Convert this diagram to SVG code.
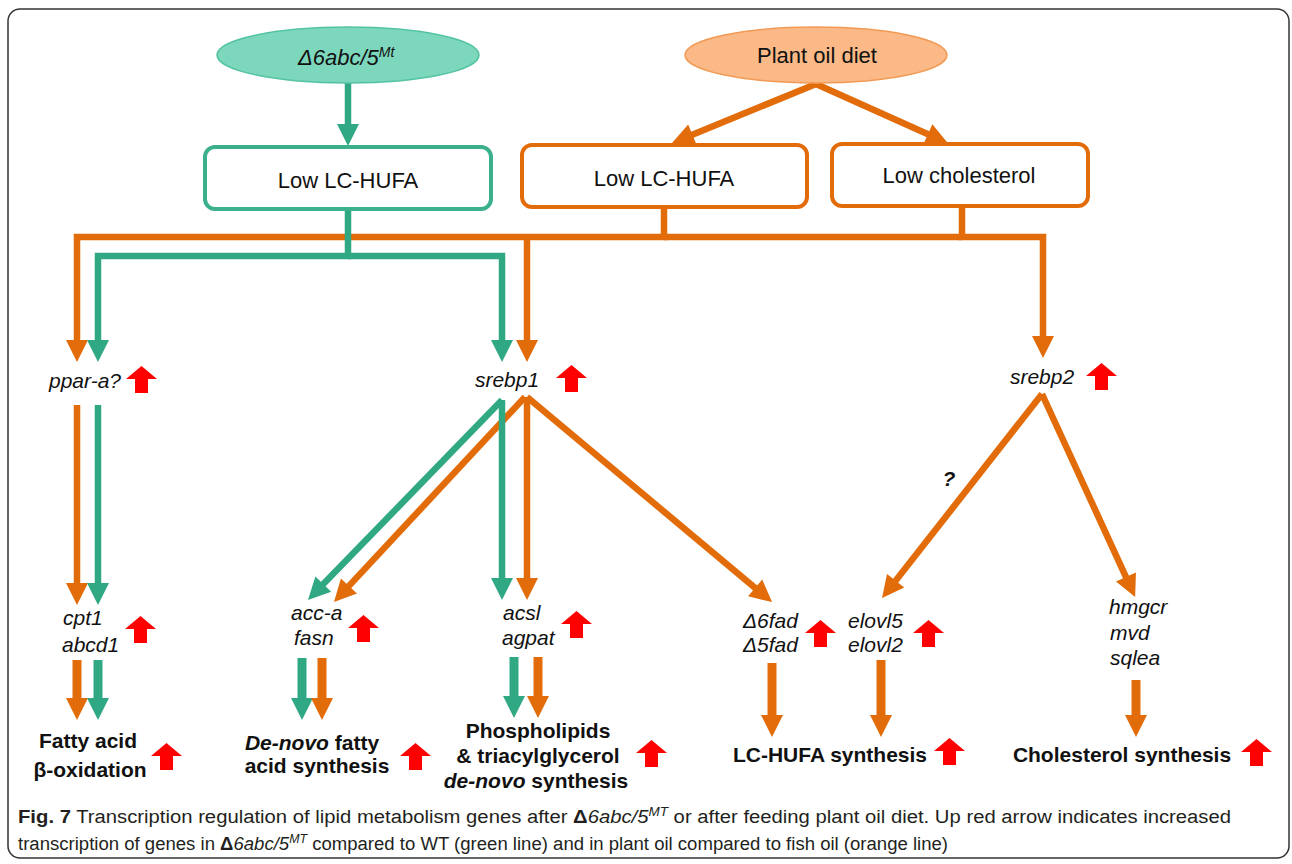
<svg xmlns="http://www.w3.org/2000/svg" width="1292" height="864" viewBox="0 0 1292 864">
<style>
.lbl{font-family:"Liberation Sans",Arial,sans-serif;font-size:21px;fill:#111}
.bx{font-size:22px}
.it{font-style:italic}
.bd{font-weight:bold}
.og{fill:none;stroke:#e36c0a;stroke-width:6.5;stroke-linejoin:miter}
.gr{fill:none;stroke:#31a884;stroke-width:6.5;stroke-linejoin:miter}
.big{stroke-width:9}
.cap{font-family:"Liberation Sans",Arial,sans-serif;font-size:18px;fill:#231f20}
</style>
<defs>
<marker id="ao" markerUnits="userSpaceOnUse" markerWidth="24" markerHeight="24" viewBox="0 -12 22 24" refX="2" refY="0" orient="auto"><path d="M0,-11 L22,0 L0,11 Z" fill="#e36c0a"/></marker>
<marker id="ag" markerUnits="userSpaceOnUse" markerWidth="24" markerHeight="24" viewBox="0 -12 22 24" refX="2" refY="0" orient="auto"><path d="M0,-11 L22,0 L0,11 Z" fill="#31a884"/></marker>
<path id="up" d="M15.5,0 L31,13 L22,13 L22,27 L9,27 L9,13 L0,13 Z" fill="#ff0000"/>
</defs>
<rect x="8" y="9" width="1281" height="849" rx="12" fill="#fff" stroke="#333" stroke-width="1.5"/>

<g id="connectors">
<path class="og" d="M664,208 V237 H77 V342" marker-end="url(#ao)"/>
<path class="og" d="M664,237 H962"/>
<path class="og" d="M527,237 V342" marker-end="url(#ao)"/>
<path class="og" d="M962,207 V237 H1043 V338" marker-end="url(#ao)"/>
<path class="og" d="M816,84 L690.5,135.4" marker-end="url(#ao)"/>
<path class="og" d="M816,84 L929.7,135" marker-end="url(#ao)"/>
<path class="gr" d="M348,83 V126" marker-end="url(#ag)"/>
<path class="gr" d="M348,210 V256 H98 V342" marker-end="url(#ag)"/>
<path class="gr" d="M348,256 H502 V342" marker-end="url(#ag)"/>
<path class="og" d="M77,405 V585" marker-end="url(#ao)"/>
<path class="gr" d="M98,405 V585" marker-end="url(#ag)"/>
<path class="gr" d="M502,400 L321.9,585.6" marker-end="url(#ag)"/>
<path class="og" d="M525,397 L347.6,587.4" marker-end="url(#ao)"/>
<path class="gr" d="M502,400 V580" marker-end="url(#ag)"/>
<path class="og" d="M527,397 V580" marker-end="url(#ao)"/>
<path class="og" d="M527,397 L756.7,589.2" marker-end="url(#ao)"/>
<path class="og" d="M1042,394 L894.4,582.3" marker-end="url(#ao)"/>
<path class="og" d="M1042,394 L1126.8,578.8" marker-end="url(#ao)"/>
<path class="og big" d="M77,660 V700" marker-end="url(#ao)"/>
<path class="gr big" d="M98,660 V700" marker-end="url(#ag)"/>
<path class="gr big" d="M302,658 V700" marker-end="url(#ag)"/>
<path class="og big" d="M322,658 V700" marker-end="url(#ao)"/>
<path class="gr big" d="M514,657 V698" marker-end="url(#ag)"/>
<path class="og big" d="M538,657 V698" marker-end="url(#ao)"/>
<path class="og big" d="M772,663 V717" marker-end="url(#ao)"/>
<path class="og big" d="M881,660 V717" marker-end="url(#ao)"/>
<path class="og big" d="M1136,680 V717" marker-end="url(#ao)"/>
<text class="lbl it bd" x="949" y="486" text-anchor="middle">?</text>
</g>

<g id="mutant">
<ellipse cx="348" cy="55" rx="131" ry="28" fill="#7dd7bc" stroke="#52c3a2" stroke-width="1.5"/>
<text class="lbl bx it" x="298" y="65">Δ6abc/5<tspan font-size="14" dy="-8">Mt</tspan></text>
</g>
<g id="plantoil">
<ellipse cx="816" cy="55" rx="131" ry="28" fill="#fab986" stroke="#f29a55" stroke-width="1.5"/>
<text class="lbl bx" x="817" y="63" text-anchor="middle">Plant oil diet</text>
</g>
<g id="lowhufa-green">
<rect x="205" y="147" width="286" height="62" rx="10" fill="#fff" stroke="#3cb08c" stroke-width="4"/>
<text class="lbl bx" x="348" y="188" text-anchor="middle">Low LC-HUFA</text>
</g>
<g id="lowhufa-orange">
<rect x="522" y="145" width="285" height="62" rx="10" fill="#fff" stroke="#e36c0a" stroke-width="4"/>
<text class="lbl bx" x="664" y="186" text-anchor="middle">Low LC-HUFA</text>
</g>
<g id="lowchol">
<rect x="832" y="144" width="256" height="62" rx="10" fill="#fff" stroke="#e36c0a" stroke-width="4"/>
<text class="lbl bx" x="959" y="183" text-anchor="middle">Low cholesterol</text>
</g>

<g id="ppar">
<text class="lbl it" x="121" y="388" text-anchor="end">ppar-a?</text>
<use href="#up" x="126" y="366"/>
</g>
<g id="srebp1">
<text class="lbl it" x="507" y="387" text-anchor="middle">srebp1</text>
<use href="#up" x="556" y="365"/>
</g>
<g id="srebp2">
<text class="lbl it" x="1042" y="384" text-anchor="middle">srebp2</text>
<use href="#up" x="1086" y="363"/>
</g>

<g id="cpt1">
<text class="lbl it" x="63" y="625">cpt1</text>
<text class="lbl it" x="62" y="652">abcd1</text>
<use href="#up" x="125" y="616"/>
</g>
<g id="acca">
<text class="lbl it" x="291" y="620">acc-a</text>
<text class="lbl it" x="294" y="645">fasn</text>
<use href="#up" x="348" y="615"/>
</g>
<g id="acsl">
<text class="lbl it" x="503" y="620">acsl</text>
<text class="lbl it" x="502" y="645">agpat</text>
<use href="#up" x="561" y="611"/>
</g>
<g id="fad">
<text class="lbl it" x="743" y="628">Δ6fad</text>
<text class="lbl it" x="743" y="652">Δ5fad</text>
<use href="#up" x="805" y="620"/>
</g>
<g id="elovl">
<text class="lbl it" x="848" y="628">elovl5</text>
<text class="lbl it" x="848" y="652">elovl2</text>
<use href="#up" x="913" y="620"/>
</g>
<g id="hmgcr">
<text class="lbl it" x="1109" y="614">hmgcr</text>
<text class="lbl it" x="1110" y="640">mvd</text>
<text class="lbl it" x="1110" y="665">sqlea</text>
</g>

<g id="fao">
<text class="lbl bd" x="88" y="748" text-anchor="middle">Fatty acid</text>
<text class="lbl bd" x="90" y="777" text-anchor="middle">β-oxidation</text>
<use href="#up" x="151" y="743"/>
</g>
<g id="denovo">
<text class="lbl bd" x="312" y="750" text-anchor="middle"><tspan class="it">De-novo</tspan> fatty</text>
<text class="lbl bd" x="317" y="773" text-anchor="middle">acid synthesis</text>
<use href="#up" x="400" y="743"/>
</g>
<g id="phospho">
<text class="lbl bd" x="538" y="738" text-anchor="middle">Phospholipids</text>
<text class="lbl bd" x="538" y="763" text-anchor="middle">&amp; triacylglycerol</text>
<text class="lbl bd" x="536" y="788" text-anchor="middle"><tspan class="it">de-novo</tspan> synthesis</text>
<use href="#up" x="636" y="740"/>
</g>
<g id="hufasyn">
<text class="lbl bd" x="830" y="762" text-anchor="middle">LC-HUFA synthesis</text>
<use href="#up" x="934" y="738"/>
</g>
<g id="cholsyn">
<text class="lbl bd" x="1122" y="762" text-anchor="middle">Cholesterol synthesis</text>
<use href="#up" x="1241" y="739"/>
</g>

<g id="caption">
<text class="cap" x="18" y="823" textLength="1213" lengthAdjust="spacingAndGlyphs"><tspan class="bd">Fig. 7</tspan> Transcription regulation of lipid metabolism genes after <tspan class="bd">Δ</tspan><tspan class="it">6abc/5</tspan><tspan class="it" font-size="12" dy="-7">MT</tspan><tspan dy="7"> or after feeding plant oil diet. Up red arrow indicates increased</tspan></text>
<text class="cap" x="18" y="850" textLength="930" lengthAdjust="spacingAndGlyphs">transcription of genes in <tspan class="bd">Δ</tspan><tspan class="it">6abc/5</tspan><tspan class="it" font-size="12" dy="-7">MT</tspan><tspan dy="7"> compared to WT (green line) and in plant oil compared to fish oil (orange line)</tspan></text>
</g>
</svg>
